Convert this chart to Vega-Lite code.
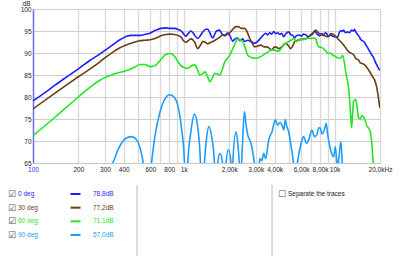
{
  "$schema": "https://vega.github.io/schema/vega-lite/v6.json",
  "width": 347,
  "height": 154,
  "autosize": {"type": "none"},
  "padding": {"left": 33, "top": 9, "right": 20, "bottom": 93},
  "background": "white",
  "config": {"view": {"stroke": "#c8c8c8"}, "font": "Liberation Sans"},
  "datasets": {
    "curves": [
      {"series":"0 deg","freq_hz":100,"level_db":79.1},{"series":"0 deg","freq_hz":120,"level_db":81.0},{"series":"0 deg","freq_hz":140,"level_db":82.7},{"series":"0 deg","freq_hz":163,"level_db":84.3},{"series":"0 deg","freq_hz":200,"level_db":86.4},{"series":"0 deg","freq_hz":238,"level_db":88.3},{"series":"0 deg","freq_hz":278,"level_db":89.8},{"series":"0 deg","freq_hz":300,"level_db":90.6},{"series":"0 deg","freq_hz":330,"level_db":91.6},{"series":"0 deg","freq_hz":349,"level_db":92.2},{"series":"0 deg","freq_hz":377,"level_db":93.0},{"series":"0 deg","freq_hz":400,"level_db":93.5},{"series":"0 deg","freq_hz":419,"level_db":93.8},{"series":"0 deg","freq_hz":445,"level_db":94.0},{"series":"0 deg","freq_hz":474,"level_db":94.0},{"series":"0 deg","freq_hz":511,"level_db":94.0},{"series":"0 deg","freq_hz":552,"level_db":94.2},{"series":"0 deg","freq_hz":596,"level_db":94.5},{"series":"0 deg","freq_hz":643,"level_db":95.1},{"series":"0 deg","freq_hz":704,"level_db":95.6},{"series":"0 deg","freq_hz":760,"level_db":95.7},{"series":"0 deg","freq_hz":808,"level_db":95.6},{"series":"0 deg","freq_hz":870,"level_db":95.6},{"series":"0 deg","freq_hz":913,"level_db":95.4},{"series":"0 deg","freq_hz":960,"level_db":95.0},{"series":"0 deg","freq_hz":985,"level_db":94.6},{"series":"0 deg","freq_hz":1031,"level_db":93.8},{"series":"0 deg","freq_hz":1070,"level_db":94.4},{"series":"0 deg","freq_hz":1113,"level_db":95.0},{"series":"0 deg","freq_hz":1150,"level_db":94.6},{"series":"0 deg","freq_hz":1183,"level_db":94.0},{"series":"0 deg","freq_hz":1238,"level_db":93.3},{"series":"0 deg","freq_hz":1290,"level_db":94.0},{"series":"0 deg","freq_hz":1336,"level_db":94.8},{"series":"0 deg","freq_hz":1400,"level_db":95.4},{"series":"0 deg","freq_hz":1442,"level_db":95.4},{"series":"0 deg","freq_hz":1490,"level_db":94.5},{"series":"0 deg","freq_hz":1556,"level_db":93.4},{"series":"0 deg","freq_hz":1600,"level_db":94.2},{"series":"0 deg","freq_hz":1650,"level_db":95.0},{"series":"0 deg","freq_hz":1730,"level_db":95.2},{"series":"0 deg","freq_hz":1790,"level_db":94.3},{"series":"0 deg","freq_hz":1870,"level_db":93.9},{"series":"0 deg","freq_hz":1955,"level_db":94.6},{"series":"0 deg","freq_hz":2017,"level_db":94.0},{"series":"0 deg","freq_hz":2113,"level_db":92.7},{"series":"0 deg","freq_hz":2200,"level_db":93.3},{"series":"0 deg","freq_hz":2280,"level_db":93.4},{"series":"0 deg","freq_hz":2350,"level_db":92.8},{"series":"0 deg","freq_hz":2460,"level_db":93.2},{"series":"0 deg","freq_hz":2535,"level_db":92.6},{"series":"0 deg","freq_hz":2650,"level_db":92.9},{"series":"0 deg","freq_hz":2819,"level_db":92.5},{"series":"0 deg","freq_hz":2951,"level_db":92.2},{"series":"0 deg","freq_hz":3100,"level_db":92.7},{"series":"0 deg","freq_hz":3236,"level_db":93.4},{"series":"0 deg","freq_hz":3350,"level_db":94.0},{"series":"0 deg","freq_hz":3491,"level_db":94.5},{"series":"0 deg","freq_hz":3600,"level_db":94.1},{"series":"0 deg","freq_hz":3715,"level_db":94.6},{"series":"0 deg","freq_hz":3828,"level_db":94.3},{"series":"0 deg","freq_hz":3945,"level_db":94.9},{"series":"0 deg","freq_hz":4064,"level_db":94.4},{"series":"0 deg","freq_hz":4200,"level_db":94.6},{"series":"0 deg","freq_hz":4325,"level_db":94.2},{"series":"0 deg","freq_hz":4456,"level_db":94.5},{"series":"0 deg","freq_hz":4592,"level_db":93.7},{"series":"0 deg","freq_hz":4732,"level_db":94.3},{"series":"0 deg","freq_hz":4955,"level_db":94.8},{"series":"0 deg","freq_hz":5117,"level_db":94.2},{"series":"0 deg","freq_hz":5272,"level_db":94.0},{"series":"0 deg","freq_hz":5433,"level_db":93.4},{"series":"0 deg","freq_hz":5600,"level_db":94.0},{"series":"0 deg","freq_hz":5861,"level_db":94.1},{"series":"0 deg","freq_hz":6000,"level_db":93.8},{"series":"0 deg","freq_hz":6237,"level_db":94.3},{"series":"0 deg","freq_hz":6531,"level_db":94.0},{"series":"0 deg","freq_hz":6622,"level_db":93.6},{"series":"0 deg","freq_hz":6900,"level_db":94.0},{"series":"0 deg","freq_hz":7145,"level_db":94.3},{"series":"0 deg","freq_hz":7379,"level_db":95.0},{"series":"0 deg","freq_hz":7600,"level_db":94.4},{"series":"0 deg","freq_hz":7962,"level_db":93.9},{"series":"0 deg","freq_hz":8200,"level_db":94.4},{"series":"0 deg","freq_hz":8453,"level_db":94.2},{"series":"0 deg","freq_hz":8710,"level_db":94.6},{"series":"0 deg","freq_hz":8851,"level_db":94.4},{"series":"0 deg","freq_hz":9120,"level_db":93.8},{"series":"0 deg","freq_hz":9419,"level_db":94.1},{"series":"0 deg","freq_hz":9705,"level_db":93.8},{"series":"0 deg","freq_hz":10000,"level_db":93.7},{"series":"0 deg","freq_hz":10470,"level_db":93.6},{"series":"0 deg","freq_hz":10700,"level_db":94.5},{"series":"0 deg","freq_hz":10960,"level_db":95.1},{"series":"0 deg","freq_hz":11300,"level_db":94.9},{"series":"0 deg","freq_hz":11480,"level_db":95.2},{"series":"0 deg","freq_hz":11800,"level_db":94.6},{"series":"0 deg","freq_hz":12190,"level_db":94.8},{"series":"0 deg","freq_hz":12560,"level_db":94.6},{"series":"0 deg","freq_hz":12970,"level_db":95.2},{"series":"0 deg","freq_hz":13360,"level_db":95.0},{"series":"0 deg","freq_hz":13550,"level_db":95.4},{"series":"0 deg","freq_hz":13770,"level_db":94.9},{"series":"0 deg","freq_hz":14190,"level_db":94.2},{"series":"0 deg","freq_hz":14650,"level_db":93.6},{"series":"0 deg","freq_hz":14860,"level_db":93.1},{"series":"0 deg","freq_hz":15310,"level_db":92.8},{"series":"0 deg","freq_hz":15810,"level_db":92.4},{"series":"0 deg","freq_hz":16290,"level_db":91.6},{"series":"0 deg","freq_hz":16700,"level_db":91.0},{"series":"0 deg","freq_hz":17060,"level_db":90.4},{"series":"0 deg","freq_hz":17600,"level_db":89.6},{"series":"0 deg","freq_hz":18110,"level_db":89.0},{"series":"0 deg","freq_hz":18600,"level_db":88.0},{"series":"0 deg","freq_hz":18970,"level_db":87.4},{"series":"0 deg","freq_hz":19500,"level_db":86.6},{"series":"0 deg","freq_hz":20000,"level_db":86.0},
      {"series":"30 deg","freq_hz":100,"level_db":77.3},{"series":"30 deg","freq_hz":140,"level_db":80.9},{"series":"30 deg","freq_hz":200,"level_db":84.6},{"series":"30 deg","freq_hz":278,"level_db":88.0},{"series":"30 deg","freq_hz":300,"level_db":88.9},{"series":"30 deg","freq_hz":349,"level_db":90.5},{"series":"30 deg","freq_hz":377,"level_db":91.2},{"series":"30 deg","freq_hz":419,"level_db":91.9},{"series":"30 deg","freq_hz":474,"level_db":92.5},{"series":"30 deg","freq_hz":511,"level_db":92.8},{"series":"30 deg","freq_hz":552,"level_db":92.9},{"series":"30 deg","freq_hz":596,"level_db":93.0},{"series":"30 deg","freq_hz":643,"level_db":93.3},{"series":"30 deg","freq_hz":704,"level_db":93.9},{"series":"30 deg","freq_hz":760,"level_db":94.2},{"series":"30 deg","freq_hz":808,"level_db":94.3},{"series":"30 deg","freq_hz":870,"level_db":94.2},{"series":"30 deg","freq_hz":913,"level_db":94.0},{"series":"30 deg","freq_hz":960,"level_db":93.6},{"series":"30 deg","freq_hz":985,"level_db":93.0},{"series":"30 deg","freq_hz":1031,"level_db":92.4},{"series":"30 deg","freq_hz":1070,"level_db":92.8},{"series":"30 deg","freq_hz":1113,"level_db":93.2},{"series":"30 deg","freq_hz":1150,"level_db":93.0},{"series":"30 deg","freq_hz":1183,"level_db":92.4},{"series":"30 deg","freq_hz":1238,"level_db":91.0},{"series":"30 deg","freq_hz":1290,"level_db":91.8},{"series":"30 deg","freq_hz":1336,"level_db":92.6},{"series":"30 deg","freq_hz":1400,"level_db":92.4},{"series":"30 deg","freq_hz":1442,"level_db":92.1},{"series":"30 deg","freq_hz":1500,"level_db":92.4},{"series":"30 deg","freq_hz":1556,"level_db":92.6},{"series":"30 deg","freq_hz":1629,"level_db":93.0},{"series":"30 deg","freq_hz":1679,"level_db":93.3},{"series":"30 deg","freq_hz":1730,"level_db":93.6},{"series":"30 deg","freq_hz":1800,"level_db":94.1},{"series":"30 deg","freq_hz":1870,"level_db":94.1},{"series":"30 deg","freq_hz":1955,"level_db":94.2},{"series":"30 deg","freq_hz":2017,"level_db":94.6},{"series":"30 deg","freq_hz":2113,"level_db":95.4},{"series":"30 deg","freq_hz":2220,"level_db":96.0},{"series":"30 deg","freq_hz":2300,"level_db":96.0},{"series":"30 deg","freq_hz":2397,"level_db":95.6},{"series":"30 deg","freq_hz":2535,"level_db":95.6},{"series":"30 deg","freq_hz":2614,"level_db":95.0},{"series":"30 deg","freq_hz":2737,"level_db":93.3},{"series":"30 deg","freq_hz":2819,"level_db":92.5},{"series":"30 deg","freq_hz":2951,"level_db":91.4},{"series":"30 deg","freq_hz":3041,"level_db":91.5},{"series":"30 deg","freq_hz":3236,"level_db":91.8},{"series":"30 deg","freq_hz":3400,"level_db":91.4},{"series":"30 deg","freq_hz":3548,"level_db":91.4},{"series":"30 deg","freq_hz":3715,"level_db":91.0},{"series":"30 deg","freq_hz":3828,"level_db":90.7},{"series":"30 deg","freq_hz":3945,"level_db":91.2},{"series":"30 deg","freq_hz":4064,"level_db":91.4},{"series":"30 deg","freq_hz":4256,"level_db":91.0},{"series":"30 deg","freq_hz":4456,"level_db":91.4},{"series":"30 deg","freq_hz":4732,"level_db":92.2},{"series":"30 deg","freq_hz":4955,"level_db":91.6},{"series":"30 deg","freq_hz":5117,"level_db":91.0},{"series":"30 deg","freq_hz":5272,"level_db":91.6},{"series":"30 deg","freq_hz":5433,"level_db":92.6},{"series":"30 deg","freq_hz":5700,"level_db":92.9},{"series":"30 deg","freq_hz":6000,"level_db":93.1},{"series":"30 deg","freq_hz":6531,"level_db":93.3},{"series":"30 deg","freq_hz":6934,"level_db":94.1},{"series":"30 deg","freq_hz":7200,"level_db":94.6},{"series":"30 deg","freq_hz":7482,"level_db":95.2},{"series":"30 deg","freq_hz":7834,"level_db":94.5},{"series":"30 deg","freq_hz":8100,"level_db":94.2},{"series":"30 deg","freq_hz":8453,"level_db":94.0},{"series":"30 deg","freq_hz":8800,"level_db":93.8},{"series":"30 deg","freq_hz":9120,"level_db":93.7},{"series":"30 deg","freq_hz":9419,"level_db":94.4},{"series":"30 deg","freq_hz":9705,"level_db":94.3},{"series":"30 deg","freq_hz":10160,"level_db":93.8},{"series":"30 deg","freq_hz":10470,"level_db":93.3},{"series":"30 deg","freq_hz":10960,"level_db":92.6},{"series":"30 deg","freq_hz":11480,"level_db":91.8},{"series":"30 deg","freq_hz":11830,"level_db":91.2},{"series":"30 deg","freq_hz":12380,"level_db":90.3},{"series":"30 deg","freq_hz":12970,"level_db":89.9},{"series":"30 deg","freq_hz":13550,"level_db":89.3},{"series":"30 deg","freq_hz":13770,"level_db":88.8},{"series":"30 deg","freq_hz":14420,"level_db":88.4},{"series":"30 deg","freq_hz":14860,"level_db":87.7},{"series":"30 deg","freq_hz":15310,"level_db":87.6},{"series":"30 deg","freq_hz":15810,"level_db":87.3},{"series":"30 deg","freq_hz":16290,"level_db":86.8},{"series":"30 deg","freq_hz":17060,"level_db":85.8},{"series":"30 deg","freq_hz":17860,"level_db":84.6},{"series":"30 deg","freq_hz":18410,"level_db":83.9},{"series":"30 deg","freq_hz":18970,"level_db":82.4},{"series":"30 deg","freq_hz":19400,"level_db":80.5},{"series":"30 deg","freq_hz":19860,"level_db":78.0},{"series":"30 deg","freq_hz":20000,"level_db":77.5},
      {"series":"60 deg","freq_hz":100,"level_db":71.2},{"series":"60 deg","freq_hz":140,"level_db":75.4},{"series":"60 deg","freq_hz":200,"level_db":80.0},{"series":"60 deg","freq_hz":238,"level_db":82.2},{"series":"60 deg","freq_hz":278,"level_db":83.8},{"series":"60 deg","freq_hz":300,"level_db":84.4},{"series":"60 deg","freq_hz":349,"level_db":85.3},{"series":"60 deg","freq_hz":419,"level_db":86.0},{"series":"60 deg","freq_hz":474,"level_db":86.8},{"series":"60 deg","freq_hz":511,"level_db":87.4},{"series":"60 deg","freq_hz":552,"level_db":87.4},{"series":"60 deg","freq_hz":596,"level_db":86.9},{"series":"60 deg","freq_hz":643,"level_db":87.1},{"series":"60 deg","freq_hz":704,"level_db":88.5},{"series":"60 deg","freq_hz":748,"level_db":89.5},{"series":"60 deg","freq_hz":808,"level_db":89.9},{"series":"60 deg","freq_hz":872,"level_db":89.2},{"series":"60 deg","freq_hz":913,"level_db":88.0},{"series":"60 deg","freq_hz":985,"level_db":86.8},{"series":"60 deg","freq_hz":1063,"level_db":86.5},{"series":"60 deg","freq_hz":1113,"level_db":87.0},{"series":"60 deg","freq_hz":1183,"level_db":87.3},{"series":"60 deg","freq_hz":1238,"level_db":86.0},{"series":"60 deg","freq_hz":1276,"level_db":85.0},{"series":"60 deg","freq_hz":1336,"level_db":85.3},{"series":"60 deg","freq_hz":1377,"level_db":85.7},{"series":"60 deg","freq_hz":1442,"level_db":84.5},{"series":"60 deg","freq_hz":1486,"level_db":83.5},{"series":"60 deg","freq_hz":1556,"level_db":84.5},{"series":"60 deg","freq_hz":1604,"level_db":85.4},{"series":"60 deg","freq_hz":1679,"level_db":85.2},{"series":"60 deg","freq_hz":1730,"level_db":85.0},{"series":"60 deg","freq_hz":1800,"level_db":86.3},{"series":"60 deg","freq_hz":1870,"level_db":88.0},{"series":"60 deg","freq_hz":1955,"level_db":88.8},{"series":"60 deg","freq_hz":2017,"level_db":89.5},{"series":"60 deg","freq_hz":2113,"level_db":91.0},{"series":"60 deg","freq_hz":2200,"level_db":92.3},{"series":"60 deg","freq_hz":2280,"level_db":93.3},{"series":"60 deg","freq_hz":2350,"level_db":93.0},{"series":"60 deg","freq_hz":2460,"level_db":92.6},{"series":"60 deg","freq_hz":2535,"level_db":91.5},{"series":"60 deg","freq_hz":2655,"level_db":89.5},{"series":"60 deg","freq_hz":2800,"level_db":89.0},{"series":"60 deg","freq_hz":2951,"level_db":88.8},{"series":"60 deg","freq_hz":3100,"level_db":88.9},{"series":"60 deg","freq_hz":3236,"level_db":89.2},{"series":"60 deg","freq_hz":3491,"level_db":89.9},{"series":"60 deg","freq_hz":3650,"level_db":90.3},{"series":"60 deg","freq_hz":3828,"level_db":90.7},{"series":"60 deg","freq_hz":4064,"level_db":90.6},{"series":"60 deg","freq_hz":4256,"level_db":90.4},{"series":"60 deg","freq_hz":4456,"level_db":91.2},{"series":"60 deg","freq_hz":4592,"level_db":91.8},{"series":"60 deg","freq_hz":4808,"level_db":92.3},{"series":"60 deg","freq_hz":4955,"level_db":92.6},{"series":"60 deg","freq_hz":5188,"level_db":93.0},{"series":"60 deg","freq_hz":5346,"level_db":93.3},{"series":"60 deg","freq_hz":5598,"level_db":92.6},{"series":"60 deg","freq_hz":5861,"level_db":93.1},{"series":"60 deg","freq_hz":6237,"level_db":93.0},{"series":"60 deg","freq_hz":6531,"level_db":93.4},{"series":"60 deg","freq_hz":6934,"level_db":93.3},{"series":"60 deg","freq_hz":7261,"level_db":93.4},{"series":"60 deg","freq_hz":7482,"level_db":93.3},{"series":"60 deg","freq_hz":7650,"level_db":92.3},{"series":"60 deg","freq_hz":7834,"level_db":91.4},{"series":"60 deg","freq_hz":8100,"level_db":91.3},{"series":"60 deg","freq_hz":8453,"level_db":91.0},{"series":"60 deg","freq_hz":8800,"level_db":90.3},{"series":"60 deg","freq_hz":9120,"level_db":89.9},{"series":"60 deg","freq_hz":9419,"level_db":90.0},{"series":"60 deg","freq_hz":9705,"level_db":89.5},{"series":"60 deg","freq_hz":10160,"level_db":89.2},{"series":"60 deg","freq_hz":10470,"level_db":88.9},{"series":"60 deg","freq_hz":10960,"level_db":88.8},{"series":"60 deg","freq_hz":11300,"level_db":89.5},{"series":"60 deg","freq_hz":11650,"level_db":87.5},{"series":"60 deg","freq_hz":11830,"level_db":85.8},{"series":"60 deg","freq_hz":12190,"level_db":83.5},{"series":"60 deg","freq_hz":12380,"level_db":82.0},{"series":"60 deg","freq_hz":12560,"level_db":79.5},{"series":"60 deg","freq_hz":12760,"level_db":76.0},{"series":"60 deg","freq_hz":12970,"level_db":73.0},{"series":"60 deg","freq_hz":13150,"level_db":76.0},{"series":"60 deg","freq_hz":13360,"level_db":79.0},{"series":"60 deg","freq_hz":13770,"level_db":79.5},{"series":"60 deg","freq_hz":14000,"level_db":78.5},{"series":"60 deg","freq_hz":14190,"level_db":77.0},{"series":"60 deg","freq_hz":14420,"level_db":75.2},{"series":"60 deg","freq_hz":14860,"level_db":75.0},{"series":"60 deg","freq_hz":15100,"level_db":75.8},{"series":"60 deg","freq_hz":15560,"level_db":75.5},{"series":"60 deg","freq_hz":16000,"level_db":74.5},{"series":"60 deg","freq_hz":16290,"level_db":73.6},{"series":"60 deg","freq_hz":17060,"level_db":72.5},{"series":"60 deg","freq_hz":17300,"level_db":71.8},{"series":"60 deg","freq_hz":17600,"level_db":70.0},{"series":"60 deg","freq_hz":17860,"level_db":67.0},{"series":"60 deg","freq_hz":18410,"level_db":62.0},{"series":"60 deg","freq_hz":19000,"level_db":58.0},{"series":"60 deg","freq_hz":20000,"level_db":55.0},
      {"series":"90 deg","freq_hz":100,"level_db":57.0},{"series":"90 deg","freq_hz":150,"level_db":59.0},{"series":"90 deg","freq_hz":200,"level_db":61.0},{"series":"90 deg","freq_hz":250,"level_db":62.5},{"series":"90 deg","freq_hz":300,"level_db":64.0},{"series":"90 deg","freq_hz":337,"level_db":65.0},{"series":"90 deg","freq_hz":366,"level_db":68.0},{"series":"90 deg","freq_hz":400,"level_db":70.2},{"series":"90 deg","freq_hz":449,"level_db":71.0},{"series":"90 deg","freq_hz":488,"level_db":70.2},{"series":"90 deg","freq_hz":518,"level_db":67.8},{"series":"90 deg","freq_hz":538,"level_db":65.0},{"series":"90 deg","freq_hz":555,"level_db":60.0},{"series":"90 deg","freq_hz":569,"level_db":50.0},{"series":"90 deg","freq_hz":590,"level_db":60.0},{"series":"90 deg","freq_hz":611,"level_db":65.0},{"series":"90 deg","freq_hz":643,"level_db":71.0},{"series":"90 deg","freq_hz":694,"level_db":76.5},{"series":"90 deg","freq_hz":748,"level_db":79.5},{"series":"90 deg","freq_hz":808,"level_db":80.5},{"series":"90 deg","freq_hz":872,"level_db":79.8},{"series":"90 deg","freq_hz":927,"level_db":77.0},{"series":"90 deg","freq_hz":969,"level_db":72.5},{"series":"90 deg","freq_hz":1011,"level_db":65.0},{"series":"90 deg","freq_hz":1022,"level_db":58.0},{"series":"90 deg","freq_hz":1031,"level_db":50.0},{"series":"90 deg","freq_hz":1045,"level_db":58.0},{"series":"90 deg","freq_hz":1063,"level_db":65.0},{"series":"90 deg","freq_hz":1113,"level_db":72.0},{"series":"90 deg","freq_hz":1178,"level_db":76.1},{"series":"90 deg","freq_hz":1238,"level_db":73.0},{"series":"90 deg","freq_hz":1290,"level_db":65.0},{"series":"90 deg","freq_hz":1300,"level_db":58.0},{"series":"90 deg","freq_hz":1310,"level_db":50.0},{"series":"90 deg","freq_hz":1340,"level_db":58.0},{"series":"90 deg","freq_hz":1371,"level_db":65.0},{"series":"90 deg","freq_hz":1420,"level_db":71.0},{"series":"90 deg","freq_hz":1464,"level_db":73.3},{"series":"90 deg","freq_hz":1530,"level_db":71.0},{"series":"90 deg","freq_hz":1597,"level_db":65.0},{"series":"90 deg","freq_hz":1615,"level_db":58.0},{"series":"90 deg","freq_hz":1629,"level_db":52.0},{"series":"90 deg","freq_hz":1660,"level_db":60.0},{"series":"90 deg","freq_hz":1679,"level_db":65.0},{"series":"90 deg","freq_hz":1739,"level_db":67.2},{"series":"90 deg","freq_hz":1806,"level_db":65.0},{"series":"90 deg","freq_hz":1850,"level_db":58.0},{"series":"90 deg","freq_hz":1880,"level_db":60.0},{"series":"90 deg","freq_hz":1906,"level_db":65.0},{"series":"90 deg","freq_hz":1977,"level_db":68.0},{"series":"90 deg","freq_hz":2057,"level_db":65.0},{"series":"90 deg","freq_hz":2083,"level_db":60.0},{"series":"90 deg","freq_hz":2113,"level_db":65.0},{"series":"90 deg","freq_hz":2220,"level_db":72.1},{"series":"90 deg","freq_hz":2300,"level_db":68.0},{"series":"90 deg","freq_hz":2350,"level_db":64.0},{"series":"90 deg","freq_hz":2397,"level_db":63.0},{"series":"90 deg","freq_hz":2440,"level_db":68.0},{"series":"90 deg","freq_hz":2523,"level_db":76.7},{"series":"90 deg","freq_hz":2580,"level_db":74.0},{"series":"90 deg","freq_hz":2655,"level_db":71.4},{"series":"90 deg","freq_hz":2791,"level_db":69.5},{"series":"90 deg","freq_hz":2939,"level_db":65.0},{"series":"90 deg","freq_hz":3041,"level_db":61.0},{"series":"90 deg","freq_hz":3150,"level_db":64.0},{"series":"90 deg","freq_hz":3200,"level_db":66.0},{"series":"90 deg","freq_hz":3289,"level_db":65.5},{"series":"90 deg","freq_hz":3388,"level_db":67.2},{"series":"90 deg","freq_hz":3491,"level_db":66.0},{"series":"90 deg","freq_hz":3655,"level_db":70.2},{"series":"90 deg","freq_hz":3844,"level_db":72.1},{"series":"90 deg","freq_hz":4049,"level_db":74.8},{"series":"90 deg","freq_hz":4190,"level_db":73.6},{"series":"90 deg","freq_hz":4325,"level_db":74.2},{"series":"90 deg","freq_hz":4477,"level_db":73.6},{"series":"90 deg","freq_hz":4600,"level_db":72.5},{"series":"90 deg","freq_hz":4716,"level_db":74.8},{"series":"90 deg","freq_hz":4808,"level_db":73.5},{"series":"90 deg","freq_hz":4955,"level_db":72.1},{"series":"90 deg","freq_hz":5214,"level_db":67.6},{"series":"90 deg","freq_hz":5492,"level_db":63.0},{"series":"90 deg","freq_hz":5776,"level_db":66.8},{"series":"90 deg","freq_hz":6000,"level_db":69.5},{"series":"90 deg","freq_hz":6233,"level_db":71.0},{"series":"90 deg","freq_hz":6500,"level_db":69.5},{"series":"90 deg","freq_hz":6727,"level_db":70.2},{"series":"90 deg","freq_hz":7074,"level_db":72.5},{"series":"90 deg","freq_hz":7350,"level_db":71.0},{"series":"90 deg","freq_hz":7636,"level_db":71.4},{"series":"90 deg","freq_hz":7850,"level_db":73.0},{"series":"90 deg","freq_hz":8040,"level_db":72.9},{"series":"90 deg","freq_hz":8250,"level_db":71.6},{"series":"90 deg","freq_hz":8456,"level_db":72.1},{"series":"90 deg","freq_hz":8650,"level_db":73.2},{"series":"90 deg","freq_hz":8810,"level_db":74.0},{"series":"90 deg","freq_hz":8950,"level_db":72.0},{"series":"90 deg","freq_hz":9126,"level_db":70.2},{"series":"90 deg","freq_hz":9500,"level_db":67.5},{"series":"90 deg","freq_hz":9849,"level_db":66.4},{"series":"90 deg","freq_hz":10107,"level_db":68.7},{"series":"90 deg","freq_hz":10300,"level_db":66.0},{"series":"90 deg","freq_hz":10468,"level_db":63.5},{"series":"90 deg","freq_hz":10700,"level_db":66.5},{"series":"90 deg","freq_hz":11010,"level_db":69.8},{"series":"90 deg","freq_hz":11200,"level_db":66.0},{"series":"90 deg","freq_hz":11350,"level_db":62.0},{"series":"90 deg","freq_hz":11800,"level_db":57.0},{"series":"90 deg","freq_hz":13000,"level_db":55.0},{"series":"90 deg","freq_hz":20000,"level_db":52.0}
    ],
    "legend": [
      {"series": "0 deg", "level": "78,8dB"},
      {"series": "30 deg", "level": "77,2dB"},
      {"series": "60 deg", "level": "71,1dB"},
      {"series": "90 deg", "level": "57,0dB"}
    ],
    "option": [{"label": "Separate the traces"}],
    "dividers": [{"pane": "traces"}, {"pane": "options"}]
  },
  "layer": [
    {
      "data": {"name": "curves"},
      "mark": {"type": "line", "clip": true, "strokeWidth": 1.6, "interpolate": "monotone"},
      "encoding": {
        "x": {
          "field": "freq_hz", "type": "quantitative",
          "scale": {"type": "log", "domain": [100, 20000], "nice": false},
          "axis": {
            "title": null,
            "values": [100,200,300,400,500,600,700,800,900,1000,2000,3000,4000,5000,6000,7000,8000,9000,10000,20000],
            "labelExpr": "datum.value == 20000 ? '20,0kHz' : datum.value == 10000 ? '10k' : datum.value == 1000 ? '1k' : (datum.value == 500 || datum.value == 700 || datum.value == 900 || datum.value == 5000 || datum.value == 7000 || datum.value == 9000) ? '' : datum.value > 1000 ? (datum.value / 1000) + ',00k' : '' + datum.value",
            "labelFlush": false,
            "labelOverlap": false,
            "labelFontSize": 6.5,
            "labelColor": {"condition": {"test": "datum.value == 100", "value": "#2a2aff"}, "value": "#222222"},
            "labelPadding": 3,
            "ticks": false,
            "grid": true,
            "gridColor": "#d8d8d8",
            "gridWidth": 1.3,
            "domainColor": "#c8c8c8"
          }
        },
        "y": {
          "field": "level_db", "type": "quantitative",
          "scale": {"domain": [65, 100], "nice": false},
          "axis": {
            "title": "dB",
            "titleAngle": 0,
            "titleAlign": "right",
            "titleBaseline": "alphabetic",
            "titleX": -3,
            "titleY": -4,
            "titleFontSize": 6.5,
            "titleFontWeight": "normal",
            "titleColor": "#222222",
            "values": [65,70,75,80,85,90,95,100],
            "labelFontSize": 6.5,
            "labelColor": "#222222",
            "labelPadding": 2,
            "ticks": false,
            "grid": true,
            "gridColor": "#cfcfcf",
            "domainColor": "#6f6ff0",
            "domainWidth": 1.5
          }
        },
        "color": {
          "field": "series", "type": "nominal",
          "scale": {"domain": ["0 deg", "30 deg", "60 deg", "90 deg"], "range": ["#1f1fff", "#6b3d17", "#22e622", "#1e9bff"]},
          "legend": null
        }
      }
    },
    {
      "data": {"name": "legend"},
      "encoding": {
        "y": {"field": "series", "type": "ordinal", "scale": {"type": "point", "domain": ["0 deg", "30 deg", "60 deg", "90 deg"], "range": [185, 226], "padding": 0}, "axis": null}
      },
      "layer": [
        {
          "mark": {"type": "text", "text": "☑", "font": "DejaVu Sans", "fontSize": 9, "color": "#555555", "baseline": "middle", "align": "center"},
          "encoding": {"x": {"datum": "box", "type": "nominal", "scale": {"type": "point", "domain": ["box", "name", "swatch", "level"], "range": [-21, 74.25], "padding": 0}, "axis": null}}
        },
        {
          "mark": {"type": "text", "fontSize": 6.5, "baseline": "middle", "align": "left", "dx": -25.75},
          "encoding": {
            "x": {"datum": "name", "type": "nominal", "scale": {"type": "point", "domain": ["box", "name", "swatch", "level"], "range": [-21, 74.25], "padding": 0}, "axis": null},
            "text": {"field": "series"},
            "color": {"field": "series", "type": "nominal", "legend": null}
          }
        },
        {
          "mark": {"type": "point", "shape": "stroke", "size": 100, "strokeWidth": 2, "opacity": 1},
          "encoding": {
            "x": {"datum": "swatch", "type": "nominal", "scale": {"type": "point", "domain": ["box", "name", "swatch", "level"], "range": [-21, 74.25], "padding": 0}, "axis": null},
            "color": {"field": "series", "type": "nominal", "legend": null}
          }
        },
        {
          "mark": {"type": "text", "fontSize": 6.5, "baseline": "middle", "align": "left", "dx": -14.25},
          "encoding": {
            "x": {"datum": "level", "type": "nominal", "scale": {"type": "point", "domain": ["box", "name", "swatch", "level"], "range": [-21, 74.25], "padding": 0}, "axis": null},
            "text": {"field": "level"},
            "color": {"field": "series", "type": "nominal", "legend": null}
          }
        }
      ]
    },
    {
      "data": {"name": "option"},
      "encoding": {
        "x": {"datum": "option", "type": "nominal", "scale": {"type": "point", "domain": ["option"], "range": [249, 249], "padding": 0}, "axis": null},
        "y": {"datum": "first row", "type": "nominal", "scale": {"type": "point", "domain": ["first row"], "range": [185, 185], "padding": 0}, "axis": null}
      },
      "layer": [
        {"mark": {"type": "text", "text": "☐", "font": "DejaVu Sans", "fontSize": 9, "color": "#555555", "baseline": "middle", "align": "center"}},
        {"mark": {"type": "text", "fontSize": 6.5, "color": "#222222", "baseline": "middle", "align": "left", "dx": 6}, "encoding": {"text": {"field": "label"}}}
      ]
    },
    {
      "data": {"name": "dividers"},
      "mark": {"type": "rule", "color": "#b8b8b8", "strokeWidth": 1},
      "encoding": {
        "x": {"field": "pane", "type": "nominal", "scale": {"type": "point", "domain": ["traces", "options"], "range": [104, 239], "padding": 0}, "axis": null},
        "y": {"datum": "top", "type": "nominal", "scale": {"type": "point", "domain": ["top", "bottom"], "range": [176, 247], "padding": 0}, "axis": null},
        "y2": {"datum": "bottom"}
      }
    }
  ],
  "resolve": {"scale": {"x": "independent", "y": "independent"}}
}
